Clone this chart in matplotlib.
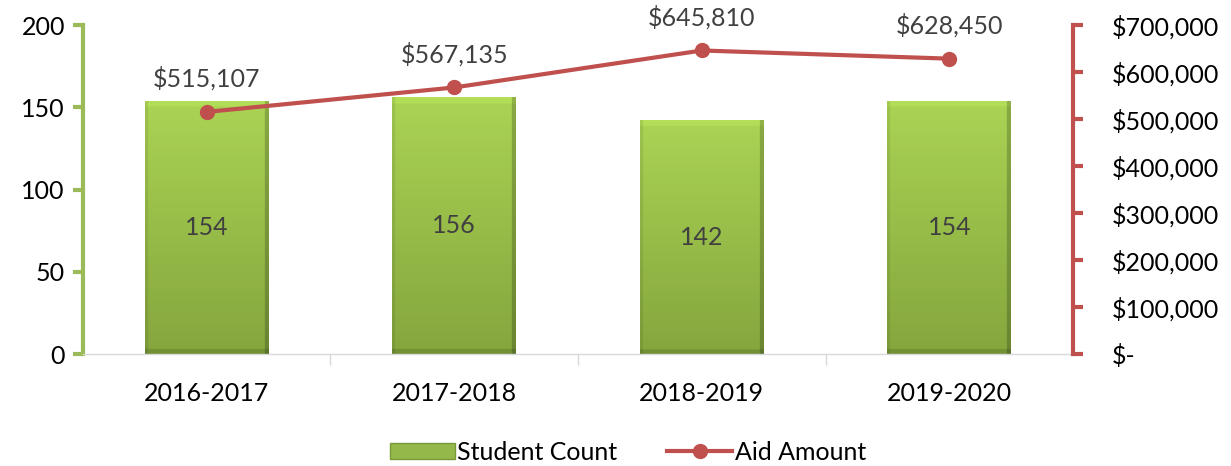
import matplotlib.pyplot as plt
import matplotlib.patches as mpatches
from matplotlib.lines import Line2D
import numpy as np

# data
years = ['2016-2017', '2017-2018', '2018-2019', '2019-2020']
student_count = [154, 156, 142, 154]
aid_amount = [515107, 567135, 645810, 628450]

green = '#9bbb59'
red = '#c0504d'
plt.rcParams['font.family'] = ['Lato', 'DejaVu Sans']
fs = 18

fig = plt.figure(figsize=(12.31, 4.66), dpi=100)
ax = fig.add_axes([0.0674, 0.2403, 0.8043, 0.7060])
ax2 = ax.twinx()

x = np.arange(len(years))
bars = ax.bar(x, student_count, width=0.5, color='none', edgecolor='none', zorder=2)

# gradient fill for bars (bevel look)
top = np.array([0.67, 0.83, 0.33])
bot = np.array([0.52, 0.65, 0.24])
t = np.linspace(0, 1, 200)[:, None]
col = top * (1 - t) + bot * t
grad = np.repeat(col[:, None, :], 120, axis=1)
grad[:, -4:] *= 0.8
grad[:, :3] *= 0.92
grad[:5] = np.clip(grad[:5] * 1.05, 0, 1)
grad[-4:] *= 0.87
for b in bars:
    im = ax.imshow(grad, extent=[b.get_x(), b.get_x() + b.get_width(), 0, b.get_height()],
                   aspect='auto', zorder=1, origin='upper', interpolation='bilinear')
    im.set_clip_path(b)
for xi, v in zip(x, student_count):
    ax.text(xi, v / 2, str(v), ha='center', va='center', fontsize=fs, color='#404040', zorder=3)

ax.set_xlim(-0.5, 3.5)
ax.set_ylim(0, 200)
ax.set_yticks([0, 50, 100, 150, 200])
ax.set_xticks(x)
ax.set_xticklabels(years)
ax.set_xticks([0.5, 1.5, 2.5], minor=True)
ax.tick_params(axis='x', which='major', length=0, pad=20, labelsize=fs)
ax.tick_params(axis='x', which='minor', length=8, color='#d9d9d9', width=1)
ax.tick_params(axis='y', length=7, width=3, color=green, labelsize=fs, pad=6)
ax.spines['left'].set_color(green)
ax.spines['left'].set_linewidth(3)
ax.spines['bottom'].set_color('#d9d9d9')
ax.spines['bottom'].set_linewidth(1)
ax.spines['top'].set_visible(False)
ax.spines['right'].set_visible(False)

# line on right axis
ax2.plot(x, aid_amount, color=red, linewidth=3, marker='o', markersize=10, zorder=4)
for xi, v in zip(x, aid_amount):
    ax2.annotate('${:,}'.format(v), (xi, v), xytext=(0, 24), textcoords='offset points',
                 ha='center', va='center', fontsize=fs, color='#404040')
ax2.set_ylim(0, 700000)
ax2.set_yticks(np.arange(0, 700001, 100000))
ax2.set_yticklabels(['$-'] + ['${:,}'.format(v) for v in range(100000, 700001, 100000)])
ax2.tick_params(axis='y', length=7, width=3, color=red, labelsize=fs, pad=21)
for lab in ax2.get_yticklabels():
    lab.set_horizontalalignment('left')
ax2.spines['right'].set_color(red)
ax2.spines['right'].set_linewidth(3)
for s in ['top', 'left', 'bottom']:
    ax2.spines[s].set_visible(False)

handles = [mpatches.Patch(facecolor='#95b84a', edgecolor='#7a9a3a'),
           Line2D([], [], color=red, linewidth=3, marker='o', markersize=10)]
fig.legend(handles, ['Student Count', 'Aid Amount'], loc='center', bbox_to_anchor=(0.51, 0.03),
           ncol=2, frameon=False, fontsize=fs, handlelength=2.6, handleheight=0.6,
           handletextpad=0.1, columnspacing=2)

fig.savefig('out.png', dpi=100)
